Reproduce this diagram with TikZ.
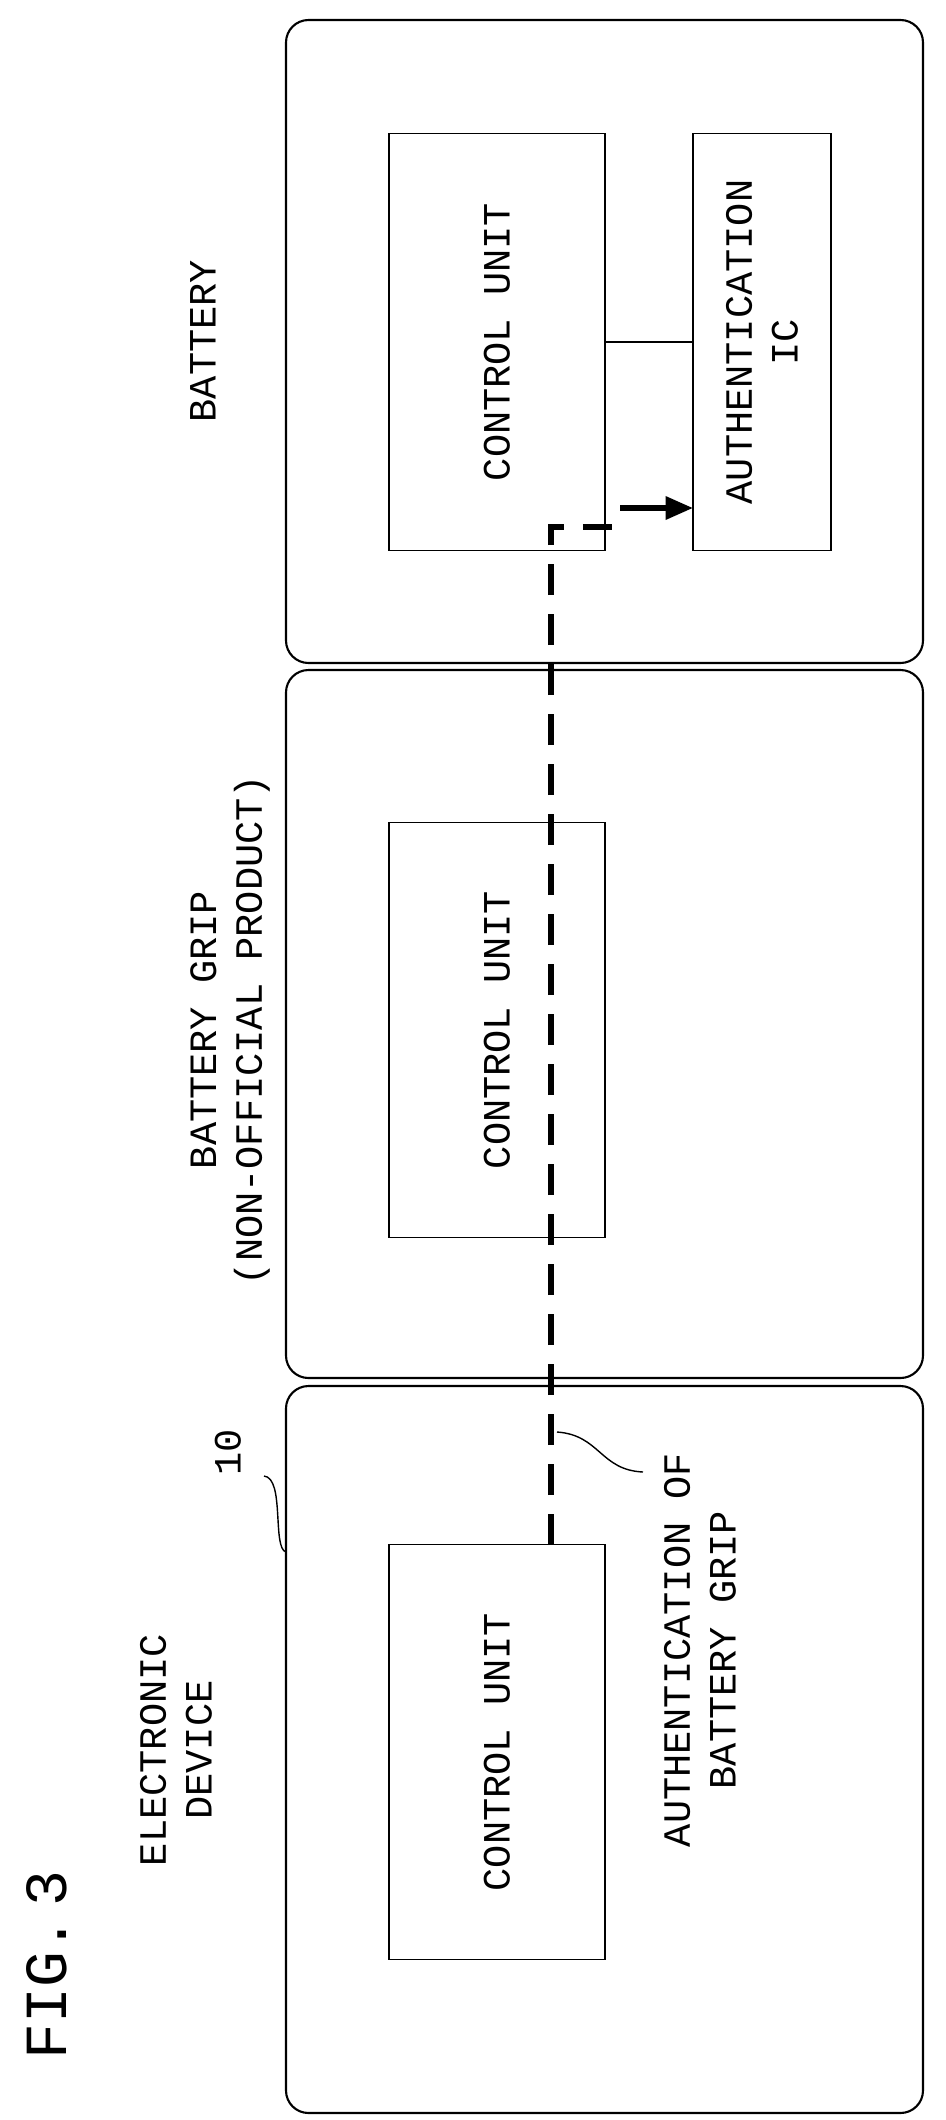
\documentclass[tikz,border=0pt]{standalone}
\usepackage{fontspec}
\setmainfont{Liberation Mono}
\usetikzlibrary{arrows.meta}
\begin{document}
\begin{tikzpicture}[x=0.02cm,y=-0.02cm,
  outer/.style={draw,line width=1.2pt,rounded corners=0.45cm},
  blk/.style={draw,line width=1pt},
  lab/.style={rotate=90,font=\fontsize{22}{26}\selectfont,align=center},
  thickdash/.style={line width=3.5pt,dash pattern=on 0.62cm off 0.38cm}]
\useasboundingbox (0,0) rectangle (946,2120);
\draw[outer] (286,20) rectangle (923,663);
\draw[outer] (286,670) rectangle (923,1378);
\draw[outer] (286,1386) rectangle (923,2113);
\node[blk,minimum width=216*0.02cm,minimum height=417*0.02cm] (cb) at (497,342) {};
\node[lab] at (cb) {CONTROL UNIT};
\node[blk,minimum width=138*0.02cm,minimum height=417*0.02cm] (ic) at (762,342) {};
\node[lab] at (ic) {AUTHENTICATION\\IC};
\draw[line width=0.8pt] (cb.east) -- (ic.west);
\node[blk,minimum width=216*0.02cm,minimum height=415*0.02cm] (cg) at (497,1030) {};
\node[lab] at (cg) {CONTROL UNIT};
\node[blk,minimum width=216*0.02cm,minimum height=415*0.02cm] (cd) at (497,1752) {};
\node[lab] at (cd) {CONTROL UNIT};
\node[lab] at (203,341) {BATTERY};
\node[lab] at (230,1030) {BATTERY GRIP\\(NON-OFFICIAL PRODUCT)};
\node[lab] at (176,1750) {ELECTRONIC\\DEVICE};
\node[lab,font=\fontsize{34}{40}\selectfont] at (47,1965) {FIG.\,3};
\node[lab] (al) at (700,1650) {AUTHENTICATION OF\\BATTERY GRIP};
\node[lab] (ten) at (228,1452) {10};
\coordinate (dstart) at (551,1545);
\coordinate (dturn) at (551,527);
\coordinate (aturn) at (612,527);
\coordinate (astart) at (620,508);
\coordinate (aend) at (693,508);
\draw[thickdash] (dstart) -- (dturn) -- (aturn);
\draw[line width=3pt,-{Triangle[length=0.55cm,width=0.45cm]}] (astart) -- (aend);
\coordinate (l1a) at (557,1432); \coordinate (l1b) at (643,1472);
\draw[line width=0.8pt] (l1a) .. controls (600,1435) and (600,1470) .. (l1b);
\coordinate (l2a) at (264,1476); \coordinate (l2b) at (286,1552);
\draw[line width=0.8pt] (l2a) .. controls (285,1478) and (272,1548) .. (l2b);
\end{tikzpicture}
\end{document}
